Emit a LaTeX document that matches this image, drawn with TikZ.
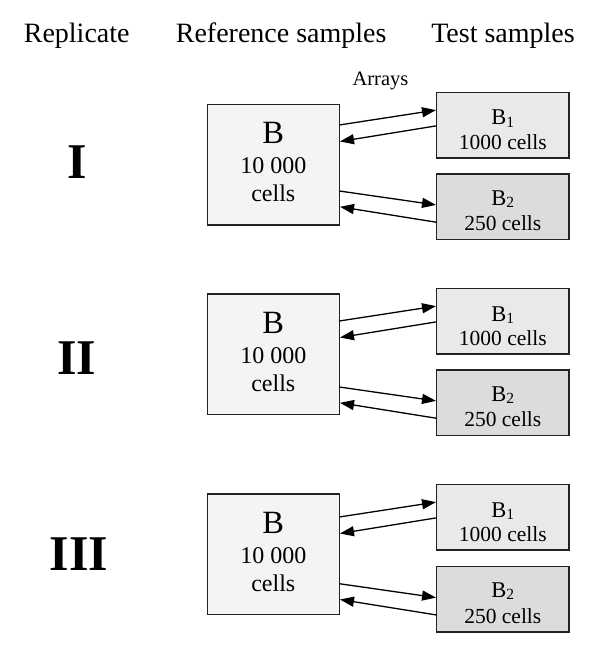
\documentclass[tikz,border=0pt]{standalone}
\usepackage{fontspec}
\setmainfont{Liberation Serif}
\usetikzlibrary{arrows.meta}
\definecolor{fillB}{HTML}{F4F4F4}
\definecolor{fillBone}{HTML}{E9E9E9}
\definecolor{fillBtwo}{HTML}{DCDCDC}
\definecolor{edgecol}{HTML}{222222}
\tikzset{
  refbox/.style={draw=edgecol, line width=1.5pt, fill=fillB, inner sep=0pt, outer sep=0pt,
    minimum width=132pt, minimum height=120.5pt, anchor=north west},
  testbox/.style={draw=edgecol, line width=1.5pt, inner sep=0pt, outer sep=0pt,
    minimum width=132.3pt, minimum height=65.5pt, anchor=north west},
  txt/.style={inner sep=0pt, anchor=base},
  arr/.style={line width=1.3pt, -{Triangle[length=14pt,width=10pt]}, shorten >=0.7pt},
  hdr/.style={txt, font=\fontsize{28}{30}\selectfont},
  numeral/.style={txt, font=\fontsize{50}{52}\selectfont\bfseries},
}
\newcommand{\subdigit}[1]{\raisebox{-2pt}{\fontsize{15.5}{16}\selectfont #1}}
% #1 name, #2 B top, #3 B1 top, #4 B2 top, #5 numeral, #6 numeral baseline, #7 numeral x
\newcommand{\myblock}[7]{%
  \node[refbox] (#1B) at (207.3,#2) {};
  \node[testbox, fill=fillBone] (#1one) at (436.7,#3) {};
  \node[testbox, fill=fillBtwo] (#1two) at (436.7,#4) {};
  \node[txt, font=\fontsize{32.5}{34}\selectfont] (#1Bt) at (273.3,#2+39) {B};
  \node[txt, font=\fontsize{24}{26}\selectfont] (#1Bn) at (273.3,#2+69) {10 000};
  \node[txt, font=\fontsize{24}{26}\selectfont] (#1Bc) at (273.3,#2+97.4) {cells};
  \node[txt, font=\fontsize{22.5}{24}\selectfont] (#1onet) at (502.8,#3+32.7) {B\subdigit{1}};
  \node[txt, font=\fontsize{21.5}{23}\selectfont] (#1onec) at (502.8,#3+57) {1000 cells};
  \node[txt, font=\fontsize{22.5}{24}\selectfont] (#1twot) at (502.8,#4+31) {B\subdigit{2}};
  \node[txt, font=\fontsize{21.5}{23}\selectfont] (#1twoc) at (502.8,#4+56.7) {250 cells};
  \node[numeral] (#1num) at (#7,#6) {#5};
  \coordinate (#1a) at (436.7,#3+32.7);
  \coordinate (#1b) at (436.7,#3+17.7);
  \coordinate (#1c) at (436.7,#3+33.5);
  \coordinate (#1d) at (436.7,#3+49.3);
  \coordinate (#1e) at (436.7,#4+17);
  \coordinate (#1f) at (436.7,#4+31);
  \coordinate (#1g) at (436.7,#4+48.3);
  \coordinate (#1h) at (436.7,#4+32.7);
  \draw[arr] (#1B.east |- #1a) -- (#1one.west |- #1b);
  \draw[arr] (#1one.west |- #1c) -- (#1B.east |- #1d);
  \draw[arr] (#1B.east |- #1e) -- (#1two.west |- #1f);
  \draw[arr] (#1two.west |- #1g) -- (#1B.east |- #1h);
}
\begin{document}
\begin{tikzpicture}[x=1pt,y=-1pt]
  \useasboundingbox (0,0) rectangle (600,647);
  \node[hdr] (h1) at (76.7,43) {Replicate};
  \node[hdr] (h2) at (281.2,43) {Reference samples};
  \node[hdr] (h3) at (503,43) {Test samples};
  \node[txt, font=\fontsize{20.5}{22}\selectfont] (arrays) at (380.5,86) {Arrays};
  \myblock{p}{104.3}{92.3}{174}{I}{178.3}{77}
  \myblock{q}{294}{288.3}{370}{II}{374}{76.5}
  \myblock{r}{494}{484.3}{566.7}{III}{570}{79}
\end{tikzpicture}
\end{document}
